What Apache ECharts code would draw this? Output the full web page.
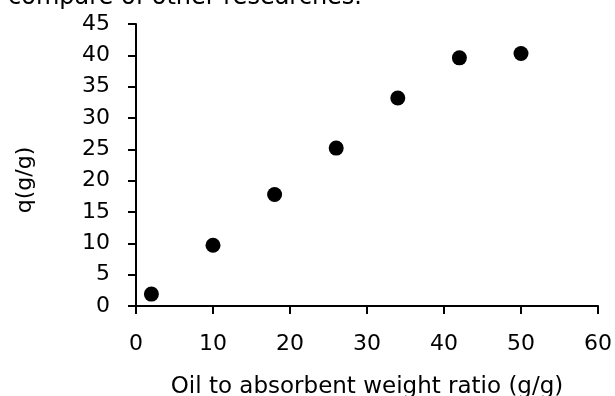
<!DOCTYPE html>
<html><head><meta charset="utf-8">
<script src="https://cdn.jsdelivr.net/npm/echarts@6/dist/echarts.min.js"></script>
<style>html,body{margin:0;padding:0;background:#fff}#c{width:615px;height:396px}</style>
</head><body><div id="c"></div>
<script>
const ratios = [2, 10, 18, 26, 34, 42, 50];
const qValues = [1.9, 9.7, 17.8, 25.2, 33.2, 39.6, 40.3];
const xTitle = 'Oil to absorbent weight ratio (g/g)';
const yTitle = 'q(g/g)';
const topText = 'compare of other researches.';
const FONT = 'DejaVu Sans';
const FS = 22;
const chart = echarts.init(document.getElementById('c'));
chart.setOption({
  animation: false,
  graphic: [{
    type: 'text', right: 615 - 362, top: -14,
    style: { text: topText, font: '24px "DejaVu Sans"', fill: '#000' }
  }, {
    type: 'text', x: 25, y: 180, rotation: Math.PI / 2,
    style: { text: yTitle, font: FS + 'px "DejaVu Sans"', fill: '#000', align: 'center', verticalAlign: 'middle' }
  }],
  grid: { left: 136, right: 17, top: 24, bottom: 90, containLabel: false, outerBoundsMode: 'none' },
  xAxis: {
    type: 'value', min: 0, max: 60, interval: 10,
    name: xTitle, nameLocation: 'middle', nameGap: 70,
    nameTextStyle: { fontFamily: FONT, fontSize: 23, color: '#000' },
    axisLine: { show: true, onZero: false, lineStyle: { color: '#000', width: 2 } },
    axisTick: { show: true, length: 8, lineStyle: { color: '#000', width: 2 } },
    axisLabel: { fontFamily: FONT, fontSize: FS, color: '#000', margin: 27 },
    splitLine: { show: false }
  },
  yAxis: {
    type: 'value', min: 0, max: 45, interval: 5,
    axisLine: { show: true, lineStyle: { color: '#000', width: 2 } },
    axisTick: { show: true, length: 8, lineStyle: { color: '#000', width: 2 } },
    axisLabel: { fontFamily: FONT, fontSize: FS, color: '#000', margin: 26 },
    splitLine: { show: false }
  },
  series: [{
    type: 'scatter',
    data: ratios.map((x, i) => [x, qValues[i]]),
    symbol: 'circle', symbolSize: 15,
    itemStyle: { color: '#000', opacity: 1 }
  }]
});
</script></body></html>
